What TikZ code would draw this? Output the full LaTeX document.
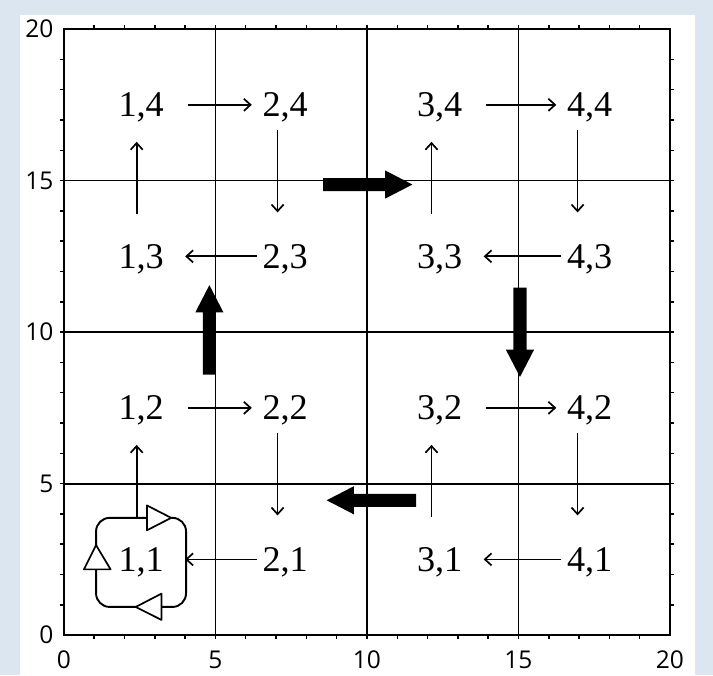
\documentclass[tikz,border=0pt]{standalone}
\usepackage{fontspec}
\newfontfamily\axisfont{Open Sans}
\newfontfamily\statefont{Liberation Serif}
\usetikzlibrary{arrows.meta}
\usepackage{xcolor}
\definecolor{paneblue}{HTML}{DCE6F1}

\begin{document}
\begin{tikzpicture}[x=1cm, y=1cm,
  state/.style={inner sep=0pt, text depth=0pt, font=\statefont\fontsize{34}{38}\selectfont},
  axislabel/.style={inner sep=0pt, font=\axisfont\fontsize{23}{26}\selectfont},
  move/.style={line width=1.6pt, -{Straight Barb[length=2.2mm,width=4mm]}},
  mright/.style={move, shorten <=1.53cm, shorten >=1.1cm},
  mleft/.style={move, shorten <=0.93cm, shorten >=1.45cm},
  mdown/.style={move, shorten <=0.84cm, shorten >=1.45cm},
  mup/.style={move, shorten <=1.4cm, shorten >=1.22cm},
  gridline/.style={line width=1.7pt}]

  % Canvas
  \useasboundingbox (-2.11, -1.32) rectangle (21.42, 20.96);
  \fill[paneblue] (-2.11, -1.32) rectangle (21.42, 20.96);
  \fill[white] (-1.46, -1.32) rectangle (20.83, 20.46);

  % ==================== 1. GRID & AXES ====================
  \draw[line width=1.9pt] (0, 0) rectangle (20, 20);
  \foreach \g in {5, 10, 15} {
    \draw[gridline] (\g, 0) -- (\g, 20);
    \draw[gridline] (0, \g) -- (20, \g);
  }
  % Minor ticks
  \foreach \t in {1, ..., 19} {
    \draw[line width=1.4pt] (\t, 0) -- (\t, -0.12);
    \draw[line width=1.4pt] (\t, 20) -- (\t, 20.12);
    \draw[line width=1.4pt] (0, \t) -- (-0.12, \t);
    \draw[line width=1.4pt] (20, \t) -- (20.12, \t);
  }
  % Axis numbers
  \foreach \v in {0, 5, 10, 15, 20} {
    \node[axislabel, anchor=east] (ylab\v) at (-0.34, \v) {\v};
    \node[axislabel] (xlab\v) at (\v, -0.82) {\v};
  }

  % ==================== 2. STATES ====================
  \foreach \i/\px in {1/2.55, 2/7.3, 3/12.4, 4/17.35} {
    \foreach \j in {1, ..., 4} {
      \node[state] (s\i\j) at (\px, 5*\j-2.5) {\i,\j};
    }
  }

  % Horizontal moves
  \foreach \a/\b in {s14/s24, s34/s44, s12/s22, s32/s42} {
    \draw[mright] (\a.center) -- (\b.center);
  }
  \foreach \a/\b in {s23/s13, s43/s33, s21/s11, s41/s31} {
    \draw[mleft] (\a.center) -- (\b.center);
  }
  % Vertical moves
  \foreach \a/\b/\dx in {s24/s23/-0.25, s44/s43/-0.4, s22/s21/-0.25, s42/s41/-0.4} {
    \draw[mdown] ([xshift=\dx cm]\a.center) -- ([xshift=\dx cm]\b.center);
  }
  \foreach \a/\b/\dx in {s13/s14/-0.15, s33/s34/-0.27, s31/s32/-0.27} {
    \draw[mup] ([xshift=\dx cm]\a.center) -- ([xshift=\dx cm]\b.center);
  }
  \draw[mup, shorten <=1.34cm] ([xshift=-0.15cm]s11.center) -- ([xshift=-0.15cm]s12.center);

  % Self loop on 1,1
  \draw[line width=1.8pt, rounded corners=0.45cm] (1.06, 0.93) rectangle (4.03, 3.87);
  \filldraw[fill=white, line width=1.6pt, line join=round] (2.74, 4.28) -- (3.54, 3.87) -- (2.74, 3.46) -- cycle;
  \filldraw[fill=white, line width=1.6pt, line join=round] (0.66, 2.17) -- (1.06, 2.97) -- (1.54, 2.17) -- cycle;
  \filldraw[fill=white, line width=1.6pt, line join=round] (3.22, 1.37) -- (2.37, 0.93) -- (3.22, 0.5) -- cycle;

  % ==================== 3. BOLD POLICY ARROWS ====================
  \foreach \px/\py/\ang in {8.55/14.87/0, 15.05/11.47/-90, 4.8/8.6/90, 11.62/4.45/180} {
    \fill[black, rotate around={\ang:(\px,\py)}]
      (\px, \py-0.215) -- (\px+2.05, \py-0.215) -- (\px+2.05, \py-0.465)
      -- (\px+2.95, \py) -- (\px+2.05, \py+0.465) -- (\px+2.05, \py+0.215)
      -- (\px, \py+0.215) -- cycle;
  }

\end{tikzpicture}
\end{document}
